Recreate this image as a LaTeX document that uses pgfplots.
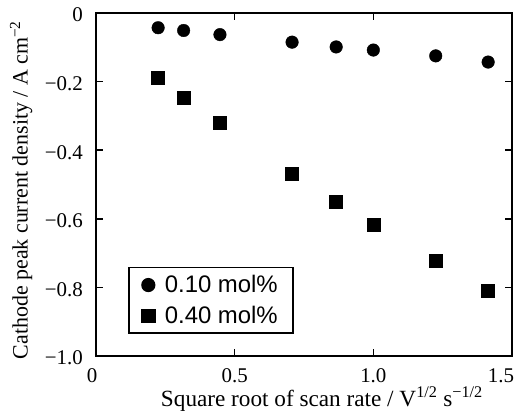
\documentclass[border=0pt]{standalone}
\usepackage{pgfplots}
\pgfplotsset{compat=1.18}
\usepackage{fontspec}
\setmainfont{Liberation Serif}
\newfontfamily\legfont{Liberation Sans}

\begin{document}
\begin{tikzpicture}
\useasboundingbox (-96bp,-60bp) rectangle (425bp,356bp);
\begin{axis}[scale only axis, width=416bp, height=343bp,
  xmin=0, xmax=1.5, ymin=-1.0, ymax=0,
  axis line style={line width=1.6bp},
  tick style={line width=1.6bp, black}, major tick length=7bp,
  tick align=inside,
  xtick={0,0.5,1.0,1.5}, xticklabels={0\hspace*{8bp},0.5,1.0,1.5\hspace*{22bp}},
  ytick={-1.0,-0.8,-0.6,-0.4,-0.2,0}, yticklabels={−1.0,−0.8,−0.6,−0.4,−0.2,0},
  ticklabel style={font=\fontsize{21}{24}\selectfont},
  xticklabel style={anchor=base, yshift=-26bp},
  yticklabel style={inner sep=0pt, xshift=-13bp, yshift=-2bp},
  xlabel={Square root of scan rate / V\textsuperscript{1/2} s\textsuperscript{−1/2}},
  ylabel={Cathode peak current density / A cm\textsuperscript{−2}},
  every axis x label/.style={at={(axis description cs:0.543,0)}, anchor=base,
    yshift=-50bp, font=\fontsize{23.3}{27}\selectfont},
  every axis y label/.style={at={(axis description cs:-0.18,0.484)}, anchor=center,
    rotate=90, font=\fontsize{22}{26}\selectfont},
  legend style={at={(axis description cs:0.077,0.064)}, anchor=south west,
    draw=black, line width=1.6bp, font=\legfont\fontsize{24}{28}\selectfont,
    inner xsep=13bp, inner ysep=6bp, row sep=8bp,
    /tikz/every odd column/.append style={column sep=8bp}},
  legend cell align=left,
]
\addplot[only marks, mark=*, mark size=6.3bp, black] coordinates {
  (0.224,-0.043) (0.316,-0.051) (0.447,-0.063) (0.707,-0.085)
  (0.866,-0.099) (1.000,-0.108) (1.225,-0.125) (1.414,-0.143)};
\addlegendentry{0.10 mol\%}
\addplot[only marks, mark=square*, mark size=6.5bp, black] coordinates {
  (0.224,-0.190) (0.316,-0.248) (0.447,-0.319) (0.707,-0.469)
  (0.866,-0.551) (1.000,-0.618) (1.225,-0.721) (1.414,-0.809)};
\addlegendentry{0.40 mol\%}
\end{axis}
\end{tikzpicture}
\end{document}
